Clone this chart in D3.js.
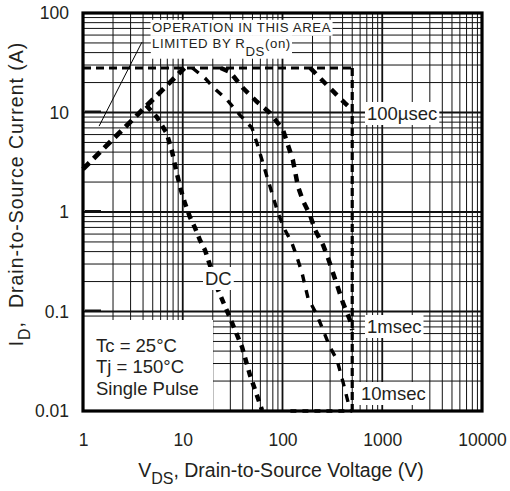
<!DOCTYPE html>
<html><head><meta charset="utf-8">
<script src="https://cdn.jsdelivr.net/npm/d3@7/dist/d3.min.js"></script>
<style>
body{margin:0;background:#fff}
text{font-family:Arial,"Liberation Sans",Helvetica,sans-serif;fill:#231f20}
</style>
</head><body>
<svg id="c" width="510" height="491"></svg>
<script>
// ---------- data ----------
const xTicks = [1, 10, 100, 1000, 10000];
const xTickLabels = ["1", "10", "100", "1000", "10000"];
const yTicks = [0.01, 0.1, 1, 10, 100];
const yTickLabels = ["0.01", "0.1", "1", "10", "100"];

// limits [V, A]
const maxCurrentLine = [[1, 28], [500, 28]];
const maxVoltageLine = [[500, 28], [500, 0.01]];
const rdsOnLine = [[1, 2.7], [10.4, 28]];
const bottomLine = [[120, 0.01], [500, 0.01]];
const curve100us = [[190, 28], [222, 23.8], [299, 17.6], [423, 12.4], [500, 10.6]];
const curve1ms = [[24, 28], [29.8, 25.5], [40.2, 17.6], [55.5, 12.8], [75, 9.9], [101, 6.7], [113.5, 4.7],
  [127, 3.33], [143, 1.8], [160, 1.3], [189, 0.93], [212, 0.66], [255, 0.466], [286, 0.345],
  [352, 0.185], [404, 0.122], [475, 0.082], [500, 0.065]];
const curve10ms = [[12.5, 28], [16.7, 22.2], [20.1, 18], [27.8, 13.4], [37.5, 9.4], [49.4, 7.0], [55.5, 4.9],
  [62.3, 3.33], [70, 2.25], [78.5, 1.55], [90, 0.98], [106, 0.66], [124, 0.49], [140, 0.35],
  [157, 0.244], [180, 0.137], [222, 0.092], [255, 0.065], [299, 0.044], [352, 0.0326],
  [404, 0.0196], [454, 0.0123], [486, 0.01]];
const curveDC = [[4.3, 11.8], [5.5, 9], [6.9, 6.2], [7.75, 4.2], [8.7, 2.47], [9.6, 1.66], [10.5, 1.23],
  [11.8, 0.89], [13.3, 0.69], [14.9, 0.52], [16.7, 0.415], [18.3, 0.314], [22.6, 0.164],
  [29.8, 0.086], [39.3, 0.044], [47.2, 0.023], [62.3, 0.0102]];
const leaderLine = [[1.45, 7.3], [3.9, 51]];

// ---------- scales ----------
const svg = d3.select("#c");
const x = d3.scaleLog().domain([1, 10000]).range([83, 482]);
const y = d3.scaleLog().domain([0.01, 100]).range([411, 13]);
const line = d3.line().x(d => x(d[0])).y(d => y(d[1]));
const isDecade = v => Math.abs(Math.log10(v) - Math.round(Math.log10(v))) < 1e-9;

// ---------- grid ----------
const grid = svg.append("g");
grid.selectAll("line.v").data(x.ticks()).enter().append("line")
  .attr("x1", d => x(d)).attr("x2", d => x(d)).attr("y1", y(100)).attr("y2", y(0.01))
  .attr("stroke", "#111").attr("stroke-width", d => isDecade(d) ? 1.8 : 1);
grid.selectAll("line.h").data(y.ticks()).enter().append("line")
  .attr("x1", x(1)).attr("x2", x(10000)).attr("y1", d => y(d)).attr("y2", d => y(d))
  .attr("stroke", "#111").attr("stroke-width", d => isDecade(d) ? 1.8 : 1);
// inner short ticks on left
grid.selectAll("line.t").data(yTicks.slice(1, 4)).enter().append("line")
  .attr("x1", x(1) + 2).attr("x2", x(1) + 18).attr("y1", d => y(d) - 1).attr("y2", d => y(d) - 1)
  .attr("stroke", "#111").attr("stroke-width", 2);

// white box for conditions
svg.append("rect").attr("x", x(1)).attr("y", 320).attr("width", 130).attr("height", y(0.01) - 320).attr("fill", "#fff");

// ---------- curves ----------
function curve(data, w, dash) {
  svg.append("path").datum(data).attr("d", line).attr("fill", "none")
    .attr("stroke", "#000").attr("stroke-width", w).attr("stroke-dasharray", dash);
}
curve(maxCurrentLine, 3.2, "8,5");
curve(maxVoltageLine, 3.2, "8,4");
curve(bottomLine, 3.5, "6,6");
curve(rdsOnLine, 4.8, "9,6");
curve(curve100us, 4.5, "8,7");
curve(curve1ms, 4.5, "8,7");
curve(curve10ms, 3.4, "8,8");
curve(curveDC, 4.5, "7,6");
svg.append("path").datum(leaderLine).attr("d", line).attr("fill", "none").attr("stroke", "#000").attr("stroke-width", 1);

// ---------- frame ----------
svg.append("rect").attr("x", x(1)).attr("y", y(100)).attr("width", x(10000) - x(1)).attr("height", y(0.01) - y(100))
  .attr("fill", "none").attr("stroke", "#000").attr("stroke-width", 3.2);

// ---------- labels with white background ----------
const bgLayer = svg.append("g");
const txtLayer = svg.append("g");
function boxed(tx, ty, str, size, pad, ls) {
  const t = txtLayer.append("text").attr("x", tx).attr("y", ty).attr("font-size", size);
  if (ls) t.attr("letter-spacing", ls);
  if (Array.isArray(str)) {
    str.forEach(p => t.append("tspan").text(p.t).attr("dy", p.dy || null));
  } else t.text(str);
  const b = t.node().getBBox();
  bgLayer.append("rect").attr("x", b.x - pad).attr("y", b.y - pad + 1)
    .attr("width", b.width + 2 * pad).attr("height", b.height + 2 * pad - 2).attr("fill", "#fff");
  return t;
}
boxed(152, 32.3, "OPERATION IN THIS AREA", 13.2, 1.5, 0.6);
boxed(152, 47.5, [{t: "LIMITED BY R"}, {t: "DS", dy: 8}, {t: "(on)", dy: -8}], 13.2, 1.2, 0.6);
boxed(367, 120, "100µsec", 18.5, 2);
boxed(205, 285, "DC", 18.5, 2);
boxed(367, 333, "1msec", 18.5, 2);
boxed(361, 400, "10msec", 18.5, 2);

// conditions text
["Tc = 25°C", "Tj = 150°C", "Single Pulse"].forEach((s, i) =>
  svg.append("text").attr("x", 96).attr("y", 352 + i * 21.3).attr("font-size", 18.5).text(s));

// ---------- axes ----------
const gx = svg.append("g").attr("transform", "translate(0,431)")
  .call(d3.axisBottom(x).tickValues(xTicks).tickSize(0).tickFormat((d, i) => xTickLabels[i]));
gx.select(".domain").remove();
gx.selectAll("text").attr("font-size", 17.5).attr("font-family", "Arial,'Liberation Sans',sans-serif").attr("fill", "#231f20").attr("dy", "0.71em");

const gy = svg.append("g").attr("transform", "translate(72,0)")
  .call(d3.axisLeft(y).tickValues(yTicks).tickSize(0).tickFormat((d, i) => yTickLabels[i]));
gy.select(".domain").remove();
gy.selectAll("text").attr("font-size", 17.5).attr("font-family", "Arial,'Liberation Sans',sans-serif").attr("fill", "#231f20");

// titles
const xt = svg.append("text").attr("x", 281).attr("y", 477).attr("text-anchor", "middle").attr("font-size", 19.5);
xt.append("tspan").text("V");
xt.append("tspan").text("DS").attr("dy", 7).attr("font-size", 16);
xt.append("tspan").text(", Drain-to-Source Voltage (V)").attr("dy", -7);

const yt = svg.append("text").attr("transform", "translate(23,194) rotate(-90)").attr("text-anchor", "middle")
  .attr("font-size", 19.5).attr("letter-spacing", 1).attr("xml:space", "preserve");
yt.append("tspan").text("I");
yt.append("tspan").text("D").attr("dy", 7).attr("font-size", 16);
yt.append("tspan").text(",  Drain-to-Source Current (A)").attr("dy", -7);
</script>
</body></html>
